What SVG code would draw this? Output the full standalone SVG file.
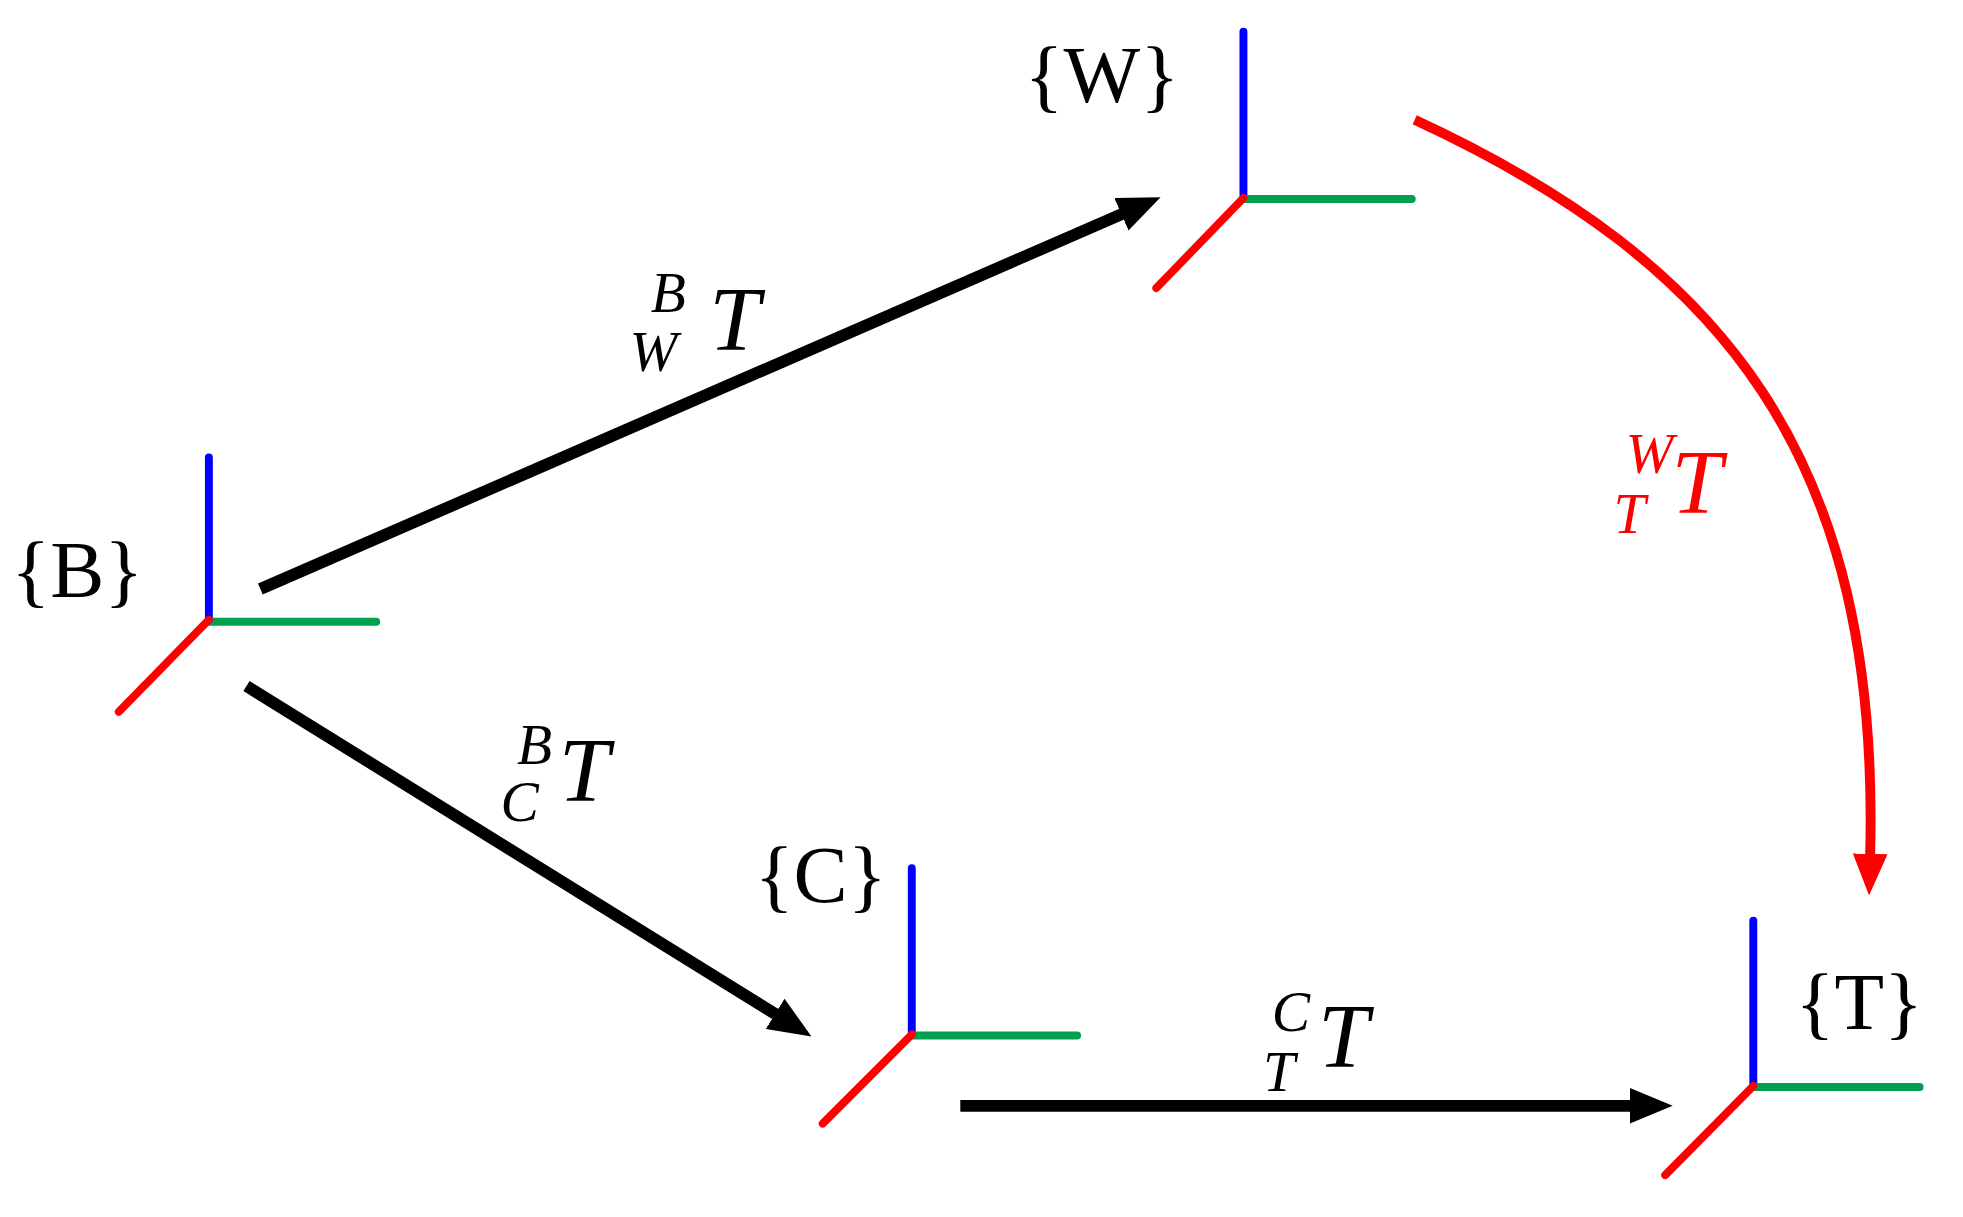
<svg xmlns="http://www.w3.org/2000/svg" width="1963" height="1217" viewBox="0 0 1963 1217">
<style>
.ax{stroke-width:8;stroke-linecap:round;fill:none}
.x{stroke:#ff0000}.y{stroke:#00a050}.z{stroke:#0000ff}
.lbl{font-family:"Liberation Serif","Times New Roman",serif;font-size:82px;fill:#000;text-anchor:middle;dominant-baseline:central}
.m{font-family:"Liberation Serif","Times New Roman",serif;font-style:italic;text-anchor:middle;dominant-baseline:central}
.big{font-size:92px}.sm{font-size:58px}
.conn{stroke:#000;stroke-width:12;fill:none}
</style>
<defs>
<marker id="ah" viewBox="0 0 12 10" refX="1" refY="5" markerWidth="3.6" markerHeight="3" markerUnits="strokeWidth" orient="auto"><path d="M0,0 L12,5 L0,10 z" fill="#000"/></marker>
<marker id="ahr" viewBox="0 0 12 10" refX="1" refY="5" markerWidth="4.2" markerHeight="3.5" markerUnits="strokeWidth" orient="auto"><path d="M0,0 L12,5 L0,10 z" fill="#ff0000"/></marker>
</defs>
<g transform="scale(0.99)">
<g id="frameB"><line class="ax z" x1="211" y1="626" x2="211" y2="462"/><line class="ax y" x1="211" y1="628" x2="380" y2="628"/><line class="ax x" x1="211" y1="626" x2="120" y2="719"/><text class="lbl" x="78" y="576">{B}</text></g>
<g id="frameW"><line class="ax z" x1="1256" y1="200" x2="1256" y2="32"/><line class="ax y" x1="1256" y1="201" x2="1426" y2="201"/><line class="ax x" x1="1256" y1="200" x2="1168" y2="291"/><text class="lbl" x="1113" y="76">{W}</text></g>
<g id="frameC"><line class="ax z" x1="921" y1="1045" x2="921" y2="877"/><line class="ax y" x1="921" y1="1046" x2="1088" y2="1046"/><line class="ax x" x1="921" y1="1045" x2="831" y2="1135"/><text class="lbl" x="829" y="884">{C}</text></g>
<g id="frameT"><line class="ax z" x1="1771" y1="1097" x2="1771" y2="930"/><line class="ax y" x1="1771" y1="1098" x2="1939" y2="1098"/><line class="ax x" x1="1771" y1="1097" x2="1682" y2="1187"/><text class="lbl" x="1878" y="1012">{T}</text></g>
<g id="connectors">
<line class="conn" x1="263" y1="595" x2="1136" y2="215" marker-end="url(#ah)"/>
<line class="conn" x1="249" y1="693" x2="786" y2="1026" marker-end="url(#ah)"/>
<line class="conn" x1="970" y1="1117" x2="1650" y2="1117" marker-end="url(#ah)"/>
<path d="M1429,121 C1740,265 1900,460 1889,866" stroke="#ff0000" stroke-width="10" fill="none" marker-end="url(#ahr)"/>
</g>
<g id="labels">
<text class="m big" x="742" y="323">T</text><text class="m sm" x="675" y="295">B</text><text class="m sm" x="660" y="355">W</text>
<text class="m big" x="590" y="778">T</text><text class="m sm" x="540" y="752">B</text><text class="m sm" x="525" y="810">C</text>
<text class="m big" x="1357" y="1047">T</text><text class="m sm" x="1304" y="1022">C</text><text class="m sm" x="1292" y="1082">T</text>
<text class="m big" x="1714" y="487" fill="#ff0000">T</text><text class="m sm" x="1666" y="458" fill="#ff0000">W</text><text class="m sm" x="1646" y="519" fill="#ff0000">T</text>
</g>
</g>
</svg>
